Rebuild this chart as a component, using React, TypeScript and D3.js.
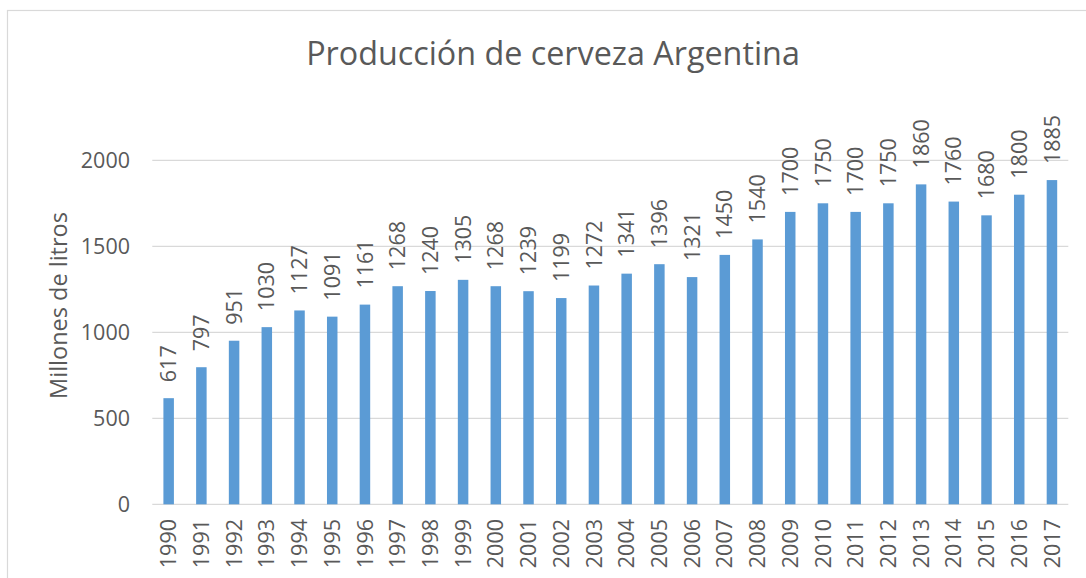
import React from "react";
import * as d3 from "d3";

const years = ["1990","1991","1992","1993","1994","1995","1996","1997","1998","1999","2000","2001","2002","2003","2004","2005","2006","2007","2008","2009","2010","2011","2012","2013","2014","2015","2016","2017"];
const production = [617,797,951,1030,1127,1091,1161,1268,1240,1305,1268,1239,1199,1272,1341,1396,1321,1450,1540,1700,1750,1700,1750,1860,1760,1680,1800,1885];
const yTicks = [0, 500, 1000, 1500, 2000];
const title = "Producción de cerveza Argentina";
const yLabel = "Millones de litros";

const W = 1086, H = 578;
const FONT = "'Open Sans', 'Liberation Sans', sans-serif";
const TXT = "#595959";
const GRID = "#d9d9d9";
const BAR = "#5B9BD5";
const FS = 21.5;

export default function App() {
  const x = d3.scaleBand<string>().domain(years).range([152.3, 1068.3]).paddingInner(0.679).paddingOuter(0.3395);
  const y = d3.scaleLinear().domain([0, 2000]).range([504.3, 160.3]);
  const cap = FS * 0.357;
  return (
    <svg width={W} height={H} style={{ position: "absolute", left: 0, top: 0 }} fontFamily={FONT}>
      <rect x={0} y={0} width={W} height={H} fill="#fff" />
      <rect x={7.5} y={10.5} width={1100} height={700} fill="none" stroke={GRID} strokeWidth={1.2} />
      <text x={553} y={65} textAnchor="middle" fontSize={32.3} fill={TXT}>{title}</text>
      {yTicks.map((t) => (
        <g key={t}>
          <line x1={152.3} x2={1068.3} y1={y(t)} y2={y(t)} stroke={GRID} strokeWidth={1.3} />
          <text x={130} y={y(t) + cap} textAnchor="end" fontSize={FS} fill={TXT}>{t}</text>
        </g>
      ))}
      <text transform={`translate(67,305.5) rotate(-90)`} textAnchor="middle" fontSize={23.5} fill={TXT}>{yLabel}</text>
      {years.map((yr, i) => {
        const bx = x(yr)!;
        const bw = x.bandwidth();
        const cx = bx + bw / 2;
        const v = production[i];
        return (
          <g key={yr}>
            <rect x={bx} y={y(v)} width={bw} height={y(0) - y(v)} fill={BAR} />
            <text transform={`translate(${cx + cap},${y(v) - 16}) rotate(-90)`} textAnchor="start" fontSize={FS} fill={TXT}>{v}</text>
            <text transform={`translate(${cx + cap},519) rotate(-90)`} textAnchor="end" fontSize={FS} fill={TXT}>{yr}</text>
          </g>
        );
      })}
    </svg>
  );
}
